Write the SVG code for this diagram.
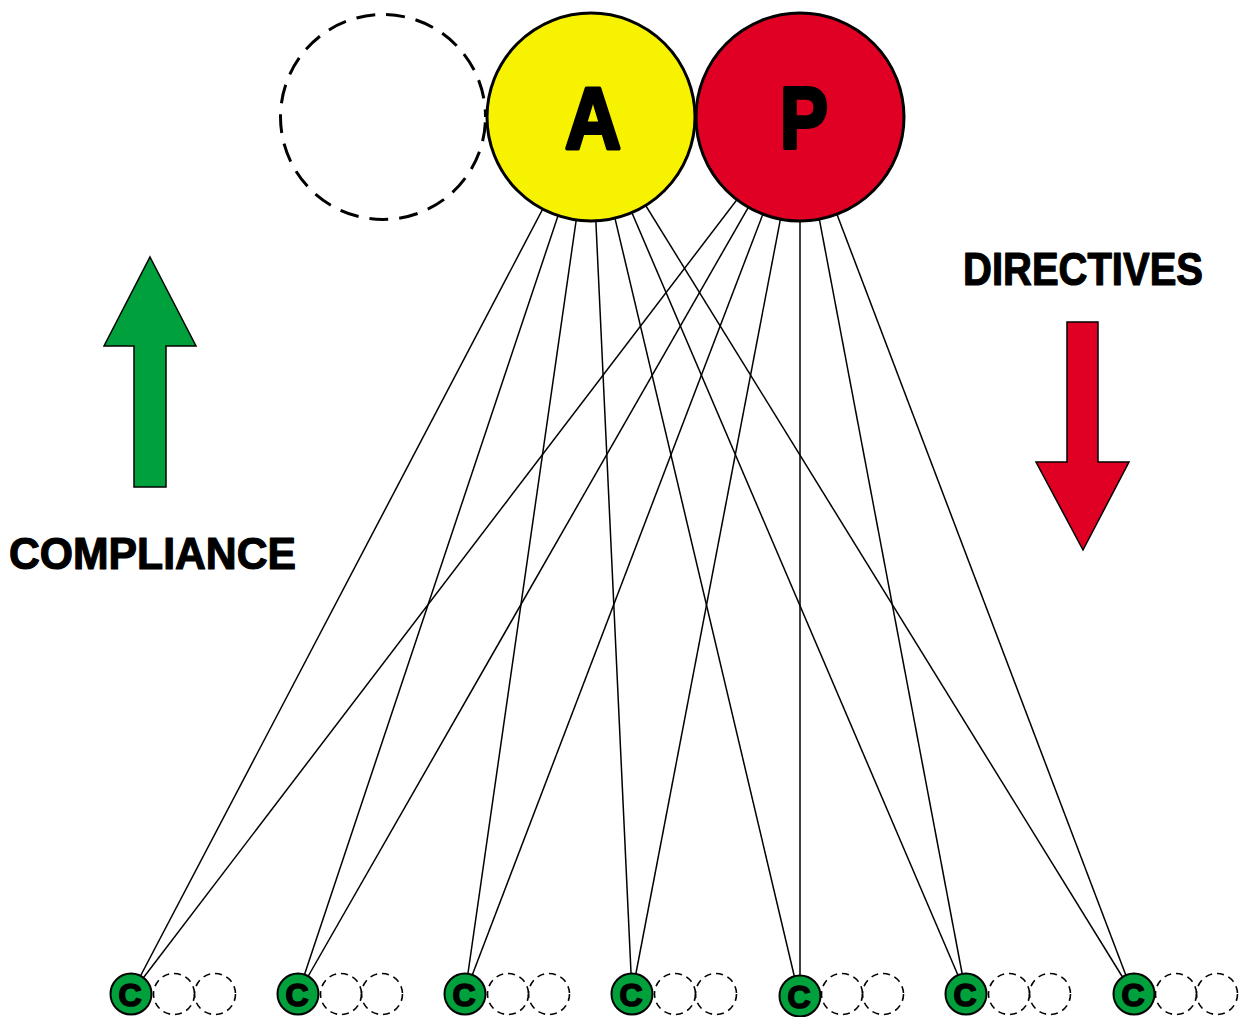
<svg xmlns="http://www.w3.org/2000/svg" width="1247" height="1017" viewBox="0 0 1247 1017">
<style>
.bg{fill:#ffffff}
.edge{stroke:#000;stroke-width:1.5;fill:none}
.big{stroke:#000;stroke-width:3}
.ghost{fill:none;stroke:#000;stroke-width:3;stroke-dasharray:19 11;stroke-dashoffset:24.5}
.cnode{fill:#00a03c;stroke:#000;stroke-width:2}
.cghost{fill:none;stroke:#000;stroke-width:1.6;stroke-dasharray:7 5}
.lbl{font-family:"Liberation Sans","DejaVu Sans",sans-serif;font-weight:bold;fill:#000;stroke:#000;stroke-linejoin:round}
.bigl{stroke-width:4}
.cl{stroke-width:1.6}
.word{stroke-width:1.2}
.arrow{stroke:#000;stroke-width:1.5}
</style>
<rect class="bg" x="0" y="0" width="1247" height="1017"/>
<g id="connectors">
<line class="edge" x1="591" y1="117" x2="131" y2="994"/>
<line class="edge" x1="591" y1="117" x2="298" y2="994"/>
<line class="edge" x1="591" y1="117" x2="465" y2="994"/>
<line class="edge" x1="591" y1="117" x2="632" y2="994"/>
<line class="edge" x1="591" y1="117" x2="799" y2="996"/>
<line class="edge" x1="591" y1="117" x2="966" y2="994"/>
<line class="edge" x1="591" y1="117" x2="1133" y2="994"/>
<line class="edge" x1="800" y1="117" x2="131" y2="994"/>
<line class="edge" x1="800" y1="117" x2="298" y2="994"/>
<line class="edge" x1="800" y1="117" x2="465" y2="994"/>
<line class="edge" x1="800" y1="117" x2="632" y2="994"/>
<line class="edge" x1="800" y1="117" x2="800" y2="996"/>
<line class="edge" x1="800" y1="117" x2="966" y2="994"/>
<line class="edge" x1="800" y1="117" x2="1133" y2="994"/>
</g>
<g id="ghost-top">
<circle class="ghost" cx="383" cy="117" r="102.5"/>
</g>
<g id="node-A">
<circle class="big" cx="591" cy="117" r="104" fill="#f7f300"/>
<text class="lbl bigl" x="593" y="148" font-size="88" text-anchor="middle" textLength="56" lengthAdjust="spacingAndGlyphs">A</text>
</g>
<g id="node-P">
<circle class="big" cx="800" cy="117" r="104" fill="#e00024"/>
<text class="lbl bigl" x="804" y="148" font-size="88" text-anchor="middle" textLength="48" lengthAdjust="spacingAndGlyphs">P</text>
</g>
<g id="node-C1">
<circle class="cghost" cx="174" cy="994" r="20.5"/>
<circle class="cghost" cx="215" cy="994" r="20.5"/>
<circle class="cnode" cx="131" cy="994" r="20.5"/>
<text class="lbl cl" x="130" y="1006" font-size="32" text-anchor="middle">C</text>
</g>
<g id="node-C2">
<circle class="cghost" cx="341" cy="994" r="20.5"/>
<circle class="cghost" cx="382" cy="994" r="20.5"/>
<circle class="cnode" cx="298" cy="994" r="20.5"/>
<text class="lbl cl" x="297" y="1006" font-size="32" text-anchor="middle">C</text>
</g>
<g id="node-C3">
<circle class="cghost" cx="508" cy="994" r="20.5"/>
<circle class="cghost" cx="549" cy="994" r="20.5"/>
<circle class="cnode" cx="465" cy="994" r="20.5"/>
<text class="lbl cl" x="464" y="1006" font-size="32" text-anchor="middle">C</text>
</g>
<g id="node-C4">
<circle class="cghost" cx="675" cy="994" r="20.5"/>
<circle class="cghost" cx="716" cy="994" r="20.5"/>
<circle class="cnode" cx="632" cy="994" r="20.5"/>
<text class="lbl cl" x="631" y="1006" font-size="32" text-anchor="middle">C</text>
</g>
<g id="node-C5">
<circle class="cghost" cx="842" cy="994" r="20.5"/>
<circle class="cghost" cx="883" cy="994" r="20.5"/>
<circle class="cnode" cx="800" cy="996" r="20.5"/>
<text class="lbl cl" x="799" y="1008" font-size="32" text-anchor="middle">C</text>
</g>
<g id="node-C6">
<circle class="cghost" cx="1009" cy="994" r="20.5"/>
<circle class="cghost" cx="1050" cy="994" r="20.5"/>
<circle class="cnode" cx="966" cy="994" r="20.5"/>
<text class="lbl cl" x="965" y="1006" font-size="32" text-anchor="middle">C</text>
</g>
<g id="node-C7">
<circle class="cghost" cx="1176" cy="994" r="20.5"/>
<circle class="cghost" cx="1217" cy="994" r="20.5"/>
<circle class="cnode" cx="1134" cy="994" r="20.5"/>
<text class="lbl cl" x="1133" y="1006" font-size="32" text-anchor="middle">C</text>
</g>
<g id="compliance">
<polygon class="arrow" fill="#00a03c" points="150,257 196,346 166,346 166,487 134,487 134,346 104,346"/>
<text class="lbl word" x="9" y="569" font-size="45" textLength="287" lengthAdjust="spacingAndGlyphs">COMPLIANCE</text>
</g>
<g id="directives">
<polygon class="arrow" fill="#e00024" points="1067,322 1098,322 1098,462 1129,462 1083,550 1036,462 1067,462"/>
<text class="lbl word" x="963" y="285" font-size="46" textLength="240" lengthAdjust="spacingAndGlyphs">DIRECTIVES</text>
</g>
</svg>
